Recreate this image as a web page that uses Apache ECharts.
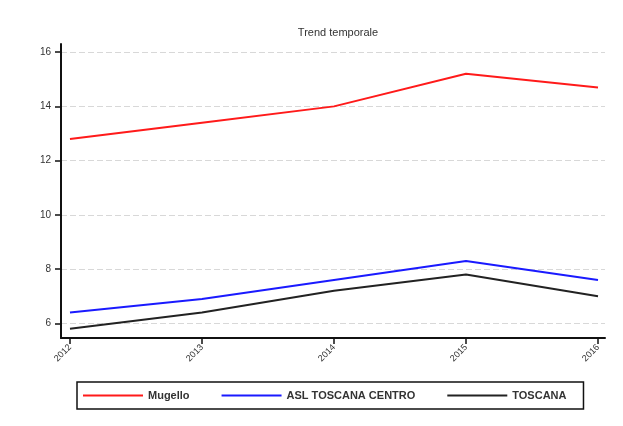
<!DOCTYPE html>
<html>
<head>
<meta charset="utf-8">
<script src="https://cdn.jsdelivr.net/npm/echarts@6/dist/echarts.min.js"></script>
<style>
html,body{margin:0;padding:0;background:#fff;}
#main{width:623px;height:426px;}
</style>
</head>
<body>
<div id="main"></div>
<script>
const years = [2012, 2013, 2014, 2015, 2016];
const yTicks = [6, 8, 10, 12, 14, 16];
const mugello = [12.8, 13.4, 14.0, 15.2, 14.7];
const aslToscanaCentro = [6.4, 6.9, 7.6, 8.3, 7.6];
const toscana = [5.8, 6.4, 7.2, 7.8, 7.0];
const seriesNames = ['Mugello', 'ASL TOSCANA CENTRO', 'TOSCANA'];

const pairs = vals => years.map((y, i) => [y, vals[i]]);
const font = 'Liberation Sans, Arial, sans-serif';

const chart = echarts.init(document.getElementById('main'), null, {renderer: 'canvas'});
chart.setOption({
  animation: false,
  backgroundColor: '#fff',
  title: {
    text: 'Trend temporale',
    left: 333, top: 22, textAlign: 'center',
    textStyle: {fontFamily: font, fontSize: 11, fontWeight: 'normal', color: '#333'}
  },
  grid: {left: 61, right: 18, top: 44, bottom: 88},
  xAxis: {
    type: 'value',
    min: 2011.932, max: 2016.053,
    axisLine: {show: true, lineStyle: {color: '#111', width: 2}},
    axisTick: {show: true, length: 6, lineStyle: {color: '#111', width: 1.5}, customValues: years},
    axisLabel: {
      customValues: years, rotate: 45, fontFamily: font, fontSize: 9, color: '#333', margin: 8,
      formatter: v => String(v)
    },
    splitLine: {show: false}
  },
  yAxis: {
    type: 'value',
    min: 5.46, max: 16.3,
    axisLine: {show: true, lineStyle: {color: '#111', width: 2}},
    axisTick: {show: true, length: 6, lineStyle: {color: '#111', width: 1.5}, customValues: yTicks},
    axisLabel: {customValues: yTicks, fontFamily: font, fontSize: 10, color: '#333', margin: 10},
    splitLine: {show: false}
  },
  legend: {
    left: 77, top: 382,
    padding: [8, 17, 8, 6],
    borderColor: '#111', borderWidth: 1.5,
    itemGap: 32, itemWidth: 60, itemHeight: 2,
    icon: 'rect',
    data: seriesNames,
    textStyle: {fontFamily: font, fontSize: 11, fontWeight: 'bold', color: '#333'}
  },
  series: [
    {
      name: 'grid', type: 'line', data: [], z: 1, silent: true,
      markLine: {
        silent: true, symbol: 'none', label: {show: false}, z: 0,
        lineStyle: {color: '#d8d8d8', type: [6, 3], width: 1},
        emphasis: {disabled: true},
        data: yTicks.map(v => ({yAxis: v}))
      }
    },
    {
      name: seriesNames[0], type: 'line', data: pairs(mugello), showSymbol: false,
      lineStyle: {color: '#ff1a1a', width: 2}, itemStyle: {color: '#ff1a1a'}, z: 3
    },
    {
      name: seriesNames[1], type: 'line', data: pairs(aslToscanaCentro), showSymbol: false,
      lineStyle: {color: '#1a1aff', width: 2}, itemStyle: {color: '#1a1aff'}, z: 3
    },
    {
      name: seriesNames[2], type: 'line', data: pairs(toscana), showSymbol: false,
      lineStyle: {color: '#222', width: 2}, itemStyle: {color: '#222'}, z: 3
    }
  ]
});
</script>
</body>
</html>
